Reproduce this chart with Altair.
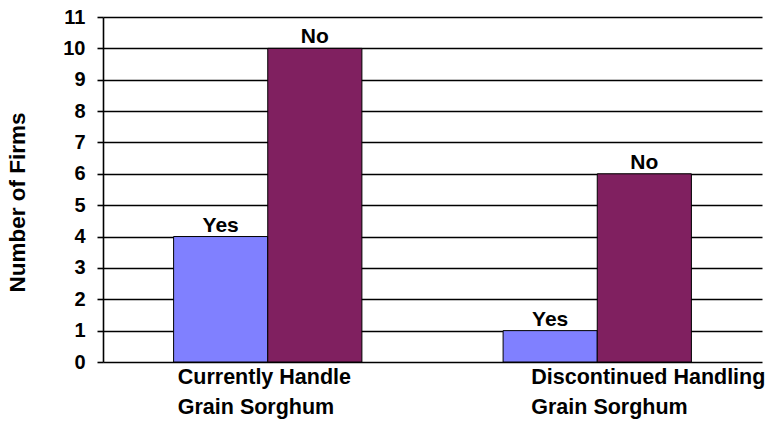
import altair as alt
import pandas as pd

groups = ["Currently Handle|Grain Sorghum", "Discontinued Handling|Grain Sorghum"]
answers = ["Yes", "No"]
yes_counts = [4, 1]
no_counts = [10, 6]
y_ticks = list(range(0, 12))

rows = []
for g, y, n in zip(groups, yes_counts, no_counts):
    rows.append({"group": g, "answer": "Yes", "count": y})
    rows.append({"group": g, "answer": "No", "count": n})
df = pd.DataFrame(rows)

FONT = "Liberation Sans"

x_enc = alt.X(
    "group:N",
    sort=groups,
    scale=alt.Scale(paddingInner=0, paddingOuter=0),
    axis=alt.Axis(
        title=None,
        ticks=False,
        domain=False,
        labelAngle=0,
        labelAlign="left",
        labelBaseline="top",
        labelExpr="split(datum.label, '|')",
        labelFont=FONT,
        labelFontSize=21.5,
        labelFontWeight="bold",
        labelColor="black",
        labelPadding=4,
        labelLineHeight=30,
        labelLimit=400,
        labelOverlap=False,
        labelBound=False,
        labelOffset={"condition": {"test": "datum.value == '" + groups[0] + "'", "value": -90}, "value": -66},
    ),
)
xo_enc = alt.XOffset("answer:N", sort=answers, scale=alt.Scale(paddingInner=0, paddingOuter=0.75))
y_enc = alt.Y(
    "count:Q",
    scale=alt.Scale(domain=[0, 11], nice=False),
    axis=alt.Axis(
        title="Number of Firms",
        values=y_ticks,
        grid=True,
        gridColor="black",
        gridWidth=1.6,
        gridOpacity=1,
        domainColor="black",
        domainWidth=1.6,
        tickColor="black",
        tickWidth=1.6,
        tickSize=6,
        labelFont=FONT,
        labelFontSize=20,
        labelFontWeight="bold",
        labelColor="black",
        labelPadding=12,
        titleFont=FONT,
        titleFontSize=22.5,
        titleFontWeight="bold",
        titleColor="black",
        titleAngle=-90,
        titleBaseline="bottom",
        titleX=-74,
        titleY=185,
    ),
)

base = alt.Chart(df).encode(x=x_enc, xOffset=xo_enc, y=y_enc)

bars = base.mark_bar(stroke="black", strokeWidth=1).encode(
    color=alt.Color(
        "answer:N",
        sort=answers,
        scale=alt.Scale(domain=answers, range=["#8080FF", "#802060"]),
        legend=None,
    )
)

labels = base.mark_text(
    baseline="alphabetic", dy=-5, font=FONT, fontSize=21, fontWeight="bold", color="black"
).encode(text="answer:N")

chart = (
    alt.layer(bars, labels)
    .properties(
        width=659,
        height=345,
        padding={"left": 103, "top": 17, "right": 3, "bottom": 61},
        autosize=alt.AutoSizeParams(type="none"),
        background="white",
    )
    .configure_view(stroke=None)
)

chart.save("out.html", embed_options={"renderer": "svg", "actions": False})
